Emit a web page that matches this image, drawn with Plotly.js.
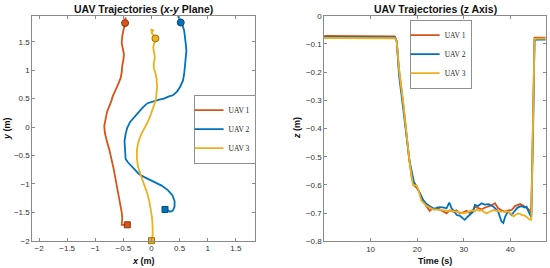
<!DOCTYPE html>
<html>
<head>
<meta charset="utf-8">
<script src="https://cdn.plot.ly/plotly-3.0.1.min.js"></script>
<style>
  html, body { margin: 0; padding: 0; background: #ffffff; }
  #chart { width: 550px; height: 268px; }
</style>
</head>
<body>
<div id="chart"></div>
<script>
// UAV names and MATLAB default colours
const uavNames = ['UAV 1', 'UAV 2', 'UAV 3'];
const uavColors = ['#D95319', '#0072BD', '#EDB120'];
const edgeColors = ['#8c3410', '#004a7a', '#9a7210'];

// x-y plane trajectories (m)
const uav1X = [-0.46, -0.47, -0.50, -0.52, -0.53, -0.51, -0.49, -0.50, -0.52, -0.53, -0.55, -0.59, -0.62, -0.66, -0.69, -0.71, -0.74, -0.76, -0.79, -0.80, -0.82, -0.84, -0.83, -0.81, -0.78, -0.75, -0.73, -0.71, -0.69, -0.67, -0.65, -0.63, -0.61, -0.59, -0.57, -0.55, -0.53, -0.52, -0.52, -0.53, -0.45];
const uav1Y = [1.93, 1.83, 1.70, 1.60, 1.48, 1.38, 1.28, 1.18, 1.08, 0.96, 0.86, 0.76, 0.70, 0.62, 0.54, 0.47, 0.40, 0.34, 0.27, 0.22, 0.14, 0.02, -0.10, -0.20, -0.30, -0.40, -0.48, -0.57, -0.66, -0.75, -0.86, -0.96, -1.06, -1.18, -1.28, -1.40, -1.50, -1.60, -1.68, -1.72, -1.72];
const uav2X = [0.47, 0.50, 0.54, 0.58, 0.60, 0.61, 0.62, 0.61, 0.60, 0.58, 0.56, 0.51, 0.45, 0.38, 0.31, 0.22, 0.12, 0.02, -0.07, -0.15, -0.23, -0.31, -0.38, -0.43, -0.46, -0.48, -0.47, -0.47, -0.46, -0.42, -0.33, -0.22, -0.11, 0.04, 0.18, 0.29, 0.37, 0.41, 0.41, 0.38, 0.33, 0.28, 0.24];
const uav2Y = [1.95, 1.89, 1.83, 1.70, 1.58, 1.46, 1.34, 1.20, 1.06, 0.93, 0.82, 0.71, 0.62, 0.56, 0.54, 0.50, 0.48, 0.45, 0.42, 0.35, 0.26, 0.17, 0.09, -0.01, -0.12, -0.25, -0.38, -0.48, -0.56, -0.62, -0.72, -0.83, -0.89, -0.96, -1.03, -1.11, -1.20, -1.30, -1.40, -1.47, -1.49, -1.46, -1.45];
const uav3X = [0.02, -0.01, 0.03, 0.00, 0.05, 0.07, 0.05, 0.03, 0.05, 0.06, 0.04, 0.04, 0.07, 0.09, 0.10, 0.09, 0.08, 0.05, 0.02, -0.02, -0.07, -0.12, -0.18, -0.23, -0.26, -0.26, -0.24, -0.19, -0.13, -0.08, -0.04, -0.01, 0.01, 0.02, 0.02, 0.00];
const uav3Y = [1.66, 1.72, 1.70, 1.66, 1.60, 1.56, 1.48, 1.40, 1.30, 1.22, 1.12, 1.04, 0.95, 0.85, 0.72, 0.60, 0.50, 0.40, 0.30, 0.20, 0.08, -0.02, -0.12, -0.25, -0.40, -0.55, -0.70, -0.85, -1.00, -1.15, -1.30, -1.45, -1.60, -1.75, -1.90, -2.00];

// start (circle) and end (square) positions
const startX = [-0.47, 0.52, 0.07];
const startY = [1.83, 1.84, 1.56];
const endX = [-0.43, 0.24, 0.00];
const endY = [-1.72, -1.45, -2.00];

// z axis over time
const t1 = [0, 15.2, 15.6, 16.1, 17.0, 17.7, 18.3, 18.8, 19.2, 19.9, 20.6, 21.3, 22.0, 22.4, 22.7, 23.2, 23.8, 24.3, 24.9, 25.5, 26.3, 27.0, 27.7, 28.4, 29.2, 29.9, 30.6, 31.3, 32.0, 32.4, 33.1, 33.8, 34.5, 35.3, 36.0, 36.7, 37.4, 38.1, 38.9, 39.6, 40.3, 41.0, 41.6, 42.1, 42.7, 43.2, 43.7, 44.1, 44.5, 44.9, 45.2, 46.0, 47.6];
const z1 = [-0.072, -0.073, -0.09, -0.19, -0.31, -0.43, -0.51, -0.57, -0.60, -0.61, -0.63, -0.66, -0.675, -0.683, -0.692, -0.685, -0.687, -0.68, -0.689, -0.693, -0.701, -0.69, -0.695, -0.69, -0.701, -0.697, -0.692, -0.70, -0.688, -0.677, -0.683, -0.687, -0.681, -0.677, -0.672, -0.665, -0.683, -0.690, -0.695, -0.690, -0.689, -0.675, -0.671, -0.668, -0.672, -0.677, -0.683, -0.689, -0.70, -0.40, -0.078, -0.078, -0.078];
const t2 = [0, 15.2, 15.6, 16.1, 17.0, 17.7, 18.3, 18.8, 19.3, 19.9, 20.6, 21.3, 22.0, 22.7, 23.4, 24.1, 24.8, 25.5, 26.3, 26.9, 27.4, 28.0, 28.5, 29.2, 29.7, 30.2, 30.9, 31.5, 32.0, 32.4, 33.1, 33.8, 34.5, 35.3, 35.9, 36.4, 36.9, 37.4, 37.8, 38.1, 38.5, 38.9, 39.3, 39.6, 40.0, 40.3, 40.8, 41.4, 41.9, 42.4, 43.0, 43.5, 43.8, 44.1, 44.5, 44.9, 45.2, 46.0, 47.6];
const z2 = [-0.076, -0.077, -0.09, -0.21, -0.33, -0.44, -0.51, -0.55, -0.59, -0.606, -0.63, -0.654, -0.668, -0.677, -0.683, -0.683, -0.679, -0.680, -0.683, -0.663, -0.683, -0.695, -0.707, -0.71, -0.718, -0.724, -0.712, -0.702, -0.695, -0.671, -0.675, -0.665, -0.670, -0.668, -0.672, -0.677, -0.686, -0.695, -0.715, -0.73, -0.735, -0.712, -0.700, -0.695, -0.703, -0.707, -0.695, -0.683, -0.678, -0.675, -0.680, -0.677, -0.690, -0.701, -0.715, -0.40, -0.086, -0.085, -0.085];
const t3 = [0, 15.2, 15.6, 16.1, 17.0, 17.7, 18.3, 18.8, 19.1, 19.9, 20.3, 20.9, 21.5, 22.0, 22.7, 23.4, 24.2, 25.0, 25.6, 26.3, 27.0, 27.8, 28.5, 29.2, 29.9, 30.5, 31.0, 31.8, 32.4, 32.8, 33.4, 33.8, 34.3, 34.9, 35.6, 36.4, 37.2, 38.1, 38.9, 39.6, 40.2, 40.7, 41.2, 41.8, 42.5, 43.2, 43.7, 44.0, 44.5, 44.9, 45.2, 46.0, 47.6];
const z3 = [-0.079, -0.080, -0.09, -0.19, -0.31, -0.43, -0.51, -0.57, -0.60, -0.603, -0.62, -0.656, -0.665, -0.674, -0.68, -0.687, -0.688, -0.689, -0.689, -0.69, -0.692, -0.693, -0.695, -0.698, -0.701, -0.698, -0.695, -0.69, -0.694, -0.687, -0.692, -0.689, -0.695, -0.701, -0.695, -0.689, -0.692, -0.695, -0.694, -0.695, -0.703, -0.712, -0.705, -0.701, -0.706, -0.71, -0.716, -0.722, -0.724, -0.40, -0.082, -0.081, -0.081];

const xyX = [uav1X, uav2X, uav3X];
const xyY = [uav1Y, uav2Y, uav3Y];
const zT = [t1, t2, t3];
const zZ = [z1, z2, z3];

const sans = 'Liberation Sans, Arial, sans-serif';
const axisColor = '#8a8a8a';
const textColor = '#333333';

const data = [];
// left panel: paths
for (let i = 0; i < 3; i++) {
    data.push({
        x: xyX[i], y: xyY[i], type: 'scatter', mode: 'lines',
        name: uavNames[i], legend: 'legend',
        line: { color: uavColors[i], width: 1.8 },
        xaxis: 'x', yaxis: 'y'
    });
}
// start / end markers
for (let i = 0; i < 3; i++) {
    data.push({
        x: [startX[i]], y: [startY[i]], type: 'scatter', mode: 'markers',
        showlegend: false, cliponaxis: false,
        marker: { symbol: 'circle', size: 7, color: uavColors[i], line: { color: edgeColors[i], width: 1 } },
        xaxis: 'x', yaxis: 'y'
    });
    data.push({
        x: [endX[i]], y: [endY[i]], type: 'scatter', mode: 'markers',
        showlegend: false, cliponaxis: false,
        marker: { symbol: 'square', size: 6, color: uavColors[i], line: { color: edgeColors[i], width: 1 } },
        xaxis: 'x', yaxis: 'y'
    });
}
// right panel: z over time
for (let i = 0; i < 3; i++) {
    data.push({
        x: zT[i], y: zZ[i], type: 'scatter', mode: 'lines',
        name: uavNames[i], legend: 'legend2',
        line: { color: uavColors[i], width: 1.8 },
        xaxis: 'x2', yaxis: 'y2'
    });
}

function axisStyle(extra) {
    return Object.assign({
        showline: true, mirror: 'ticks', linecolor: axisColor, linewidth: 1,
        ticks: 'inside', ticklen: 3, tickcolor: axisColor, tickwidth: 1,
        showgrid: false, zeroline: false,
        tickfont: { family: sans, size: 8, color: textColor }
    }, extra);
}

const legendStyle = {
    xanchor: 'left', yanchor: 'top',
    bgcolor: '#ffffff', bordercolor: '#444444', borderwidth: 0.6,
    font: { family: 'Liberation Serif, Times New Roman, serif', size: 7.5, color: '#222222' },
    itemwidth: 30, indentation: -6
};

const layout = {
    width: 550, height: 268,
    margin: { l: 0, r: 0, t: 0, b: 0 },
    paper_bgcolor: '#ffffff', plot_bgcolor: '#ffffff',
    showlegend: true,
    xaxis: axisStyle({ domain: [0.0587, 0.4636], range: [-2.12, 1.84], tick0: 0, dtick: 0.5, anchor: 'y' }),
    yaxis: axisStyle({ domain: [0.1019, 0.9414], range: [-2.0, 1.96], tick0: 0, dtick: 0.5, anchor: 'x' }),
    xaxis2: axisStyle({ domain: [0.5896, 0.9922], range: [0.05, 47.6], tickvals: [10, 20, 30, 40], anchor: 'y2' }),
    yaxis2: axisStyle({ domain: [0.0996, 0.9414], range: [-0.8, 0], tick0: 0, dtick: 0.1, anchor: 'x2' }),
    legend: Object.assign({ x: 0.3527, y: 0.6455 }, legendStyle),
    legend2: Object.assign({ x: 0.7455, y: 0.925 }, legendStyle),
    annotations: [
        { text: '<b>UAV Trajectories (<i>x</i>-<i>y</i> Plane)</b>', x: 0.2613, y: 0.968 },
        { text: '<b>UAV Trajectories (z Axis)</b>', x: 0.791, y: 0.968 },
        { text: '<b><i>x</i> (m)</b>', x: 0.2613, y: 0.027, size: 9 },
        { text: '<b>Time (s)</b>', x: 0.791, y: 0.027, size: 9 },
        { text: '<b><i>y</i> (m)</b>', x: 0.0140, y: 0.5216, size: 9, textangle: -90 },
        { text: '<b><i>z</i> (m)</b>', x: 0.5395, y: 0.5216, size: 9, textangle: -90 }
    ].map(a => ({
        text: a.text, x: a.x, y: a.y, xref: 'paper', yref: 'paper',
        xanchor: 'center', yanchor: 'middle', showarrow: false,
        textangle: a.textangle || 0,
        font: { family: sans, size: a.size || 10.5, color: '#111111' }
    }))
};

Plotly.newPlot('chart', data, layout, { displayModeBar: false, staticPlot: true });
</script>
</body>
</html>
